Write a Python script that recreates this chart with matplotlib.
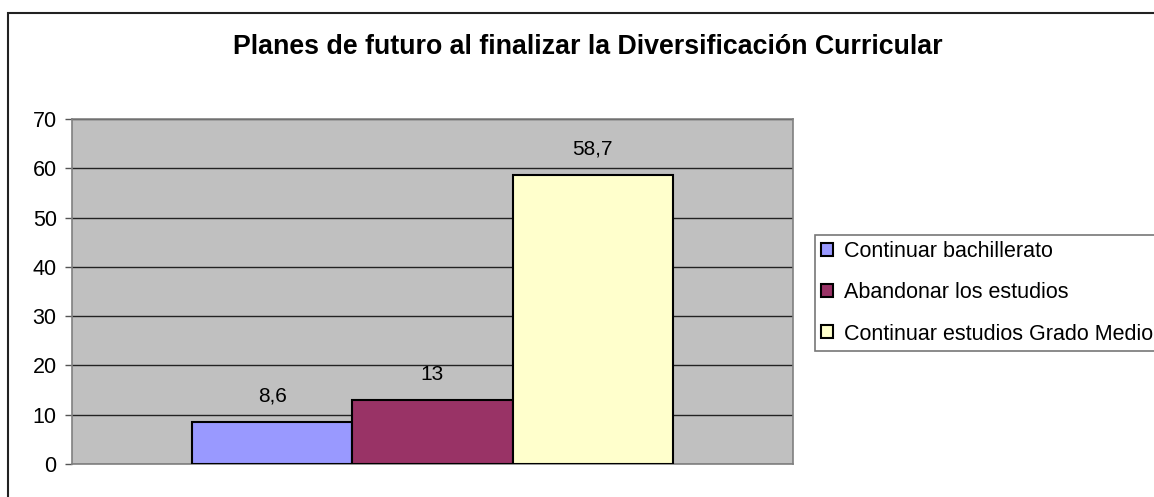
import matplotlib
matplotlib.use("Agg")
import matplotlib.pyplot as plt
from matplotlib.patches import Rectangle

plt.rcParams['font.family'] = ['Liberation Sans', 'DejaVu Sans']

title = "Planes de futuro al finalizar la Diversificación Curricular"
series = ["Continuar bachillerato", "Abandonar los estudios", "Continuar estudios Grado Medio"]
values = [8.6, 13, 58.7]
value_labels = ["8,6", "13", "58,7"]
colors = ["#9999FF", "#993366", "#FFFFCC"]
yticks = [0, 10, 20, 30, 40, 50, 60, 70]

W, H = 1154, 497
fig = plt.figure(figsize=(W / 100, H / 100), dpi=100)

# figure border (top and left visible)
fig.patches.append(Rectangle((8 / W, -0.1), 1.2, (H - 13) / H + 0.1, transform=fig.transFigure,
                             fill=False, edgecolor="#222222", linewidth=1.5, zorder=0))

ax = fig.add_axes([72 / W, 33 / H, (793 - 72) / W, (464 - 119) / H])
ax.set_facecolor("#C0C0C0")

w = 1 / (len(values) + 1.5)
for i, (name, v, c, lab) in enumerate(zip(series, values, colors, value_labels)):
    x = (i - 1) * w
    ax.bar(x, v, width=w, color=c, edgecolor="black", linewidth=1.5, label=name, zorder=3)
    ax.annotate(lab, (x, v), xytext=(0, 14.5), textcoords="offset points",
                ha="center", va="baseline", fontsize=15, color="black")

ax.set_xlim(-0.5, 0.5)
ax.set_ylim(0, 70)
ax.set_yticks(yticks)
ax.set_xticks([])
ax.yaxis.grid(True, color="#222222", linewidth=1.0, zorder=1)
ax.set_axisbelow(True)
ax.tick_params(axis="y", direction="out", length=5, width=1, color="#555555", labelsize=15.5, pad=6)
for side in ["left", "bottom", "top", "right"]:
    ax.spines[side].set_color("#808080")
    ax.spines[side].set_linewidth(1.2)

fig.text(0.5095, 1 - 47 / H, title, ha="center", va="center", fontsize=19.3, fontweight="bold")

leg = fig.legend(loc="upper left", bbox_to_anchor=(815 / W, 1 - 235 / H), fontsize=15.5,
                 frameon=True, fancybox=False, edgecolor="#555555", handlelength=0.55,
                 handleheight=0.55, handletextpad=0.5, labelspacing=0.93, borderpad=0.3,
                 borderaxespad=0)
leg.get_frame().set_linewidth(1.2)

fig.savefig("out.png", dpi=100)
